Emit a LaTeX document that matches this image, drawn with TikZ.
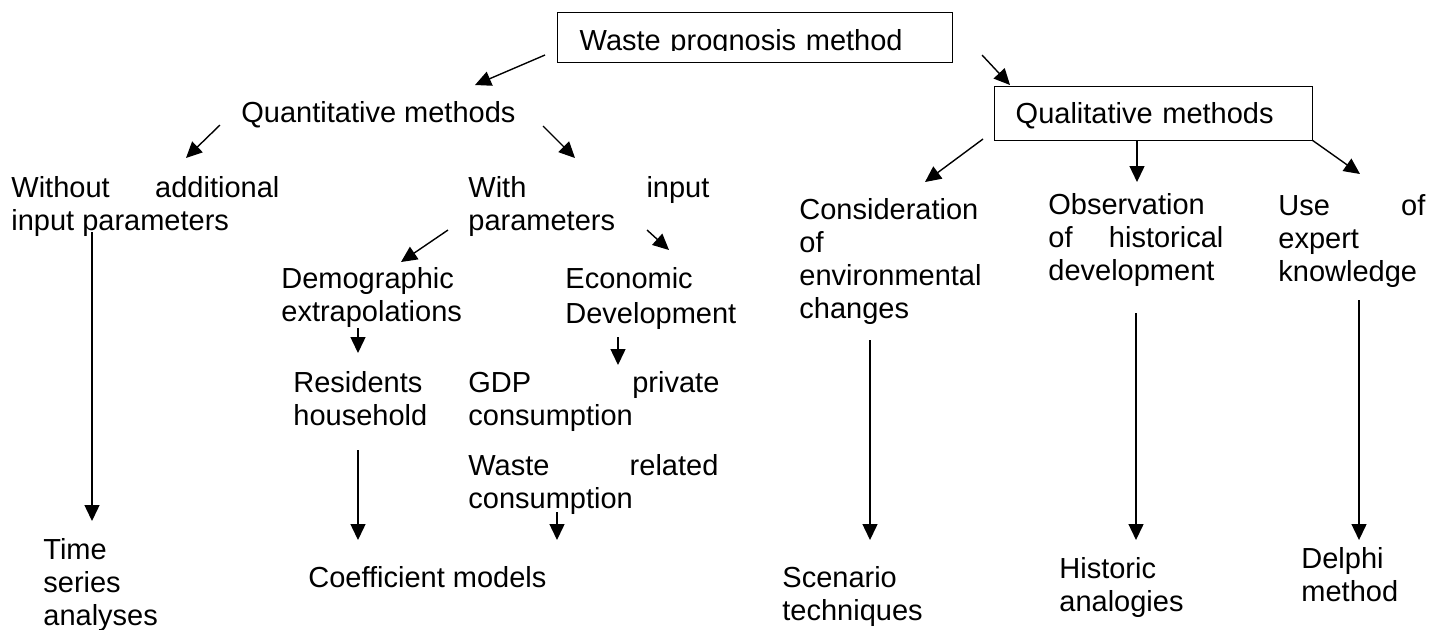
\documentclass[tikz,border=0pt]{standalone}
\usepackage{fontspec}
\setmainfont{Liberation Sans}
\usetikzlibrary{arrows.meta}
\newcommand{\stacklines}[1]{\begin{tabular}[t]{@{}l@{}}#1\end{tabular}}
\begin{document}
\begin{tikzpicture}[x=0.5pt,y=-0.5pt,
  every node/.style={font=\fontsize{14.5pt}{16.5pt}\selectfont},
  txt/.style={inner sep=0pt, anchor=base west},
  boxed/.style={draw, line width=0.7pt, inner sep=0pt, anchor=north west},
  arr/.style={line width=0.7pt, -{Triangle[length=8pt,width=7.5pt]}},
]
\useasboundingbox (0,0) rectangle (1443,629);

% top box (text clipped at its baseline, as printed)
\begin{scope}
\clip (540,0) rectangle (970,50.5) (540,57) rectangle (970,70)
      (540,0) rectangle (566,70) (935,0) rectangle (970,70);
\node[boxed, text width=197.5pt, text height=19pt, text depth=6pt] (waste) at (557,12)
  {\hspace*{11pt}Waste prognosis method};
\end{scope}

\node[txt] (quant) at (241,122) {Quantitative methods};
\node[boxed, text width=159pt, text height=18.5pt, text depth=8.5pt] (qual) at (994,86)
  {\hspace*{10.5pt}Qualitative methods};

\node[txt] (without) at (11,197) {\parbox[t]{134pt}{Without\hfill additional\\input parameters}};
\node[txt] (with) at (468,197) {\parbox[t]{120.5pt}{With\hfill input\\parameters}};
\node[txt] (demo) at (281,288) {\stacklines{Demographic\\extrapolations}};
\node[txt] (econ) at (565,288) {\stacklines{Economic\\[1pt]Development}};
\node[txt] (resid) at (293,392) {\stacklines{Residents\\household}};
\node[txt] (gdp) at (468,392) {\parbox[t]{125.5pt}{GDP\hfill private\\consumption}};
\node[txt] (wrel) at (468,475) {\parbox[t]{125pt}{Waste\hfill related\\consumption}};
\node[txt] (coef) at (308,587) {Coefficient models};
\node[txt] (time) at (43,559) {\stacklines{Time\\series\\analyses}};

\node[txt] (consid) at (799,219) {\stacklines{Consideration\\of\\environmental\\changes}};
\node[txt] (obs) at (1048,214) {\parbox[t]{87.5pt}{Observation\\of\hfill historical\\development}};
\node[txt] (use) at (1278,215) {\parbox[t]{73.5pt}{Use\hfill of\\expert\\knowledge}};
\node[txt] (scen) at (782,587) {\stacklines{Scenario\\techniques}};
\node[txt] (hist) at (1059,578) {\stacklines{Historic\\analogies}};
\node[txt] (delphi) at (1301,568) {\stacklines{Delphi\\method}};

% connector end points
\coordinate (wq1) at (545,55);   \coordinate (wq2) at (475,85);
\coordinate (wl1) at (982,55);   \coordinate (wl2) at (1010,85);
\coordinate (qo1) at (220,125);  \coordinate (qo2) at (186,158);
\coordinate (qw1) at (543,126);  \coordinate (qw2) at (575,158);
\coordinate (ot1) at (92,232);   \coordinate (ot2) at (92,521);
\coordinate (wd1) at (448,230);  \coordinate (wd2) at (401,262);
\coordinate (we1) at (647,230);  \coordinate (we2) at (669,250);
\coordinate (dr1) at (358,328);  \coordinate (dr2) at (358,353);
\coordinate (eg1) at (618,337);  \coordinate (eg2) at (618,365);
\coordinate (rc1) at (358,450);  \coordinate (rc2) at (358,540);
\coordinate (wc1) at (557,512);  \coordinate (wc2) at (557,540);
\coordinate (lc1) at (983,139);  \coordinate (lc2) at (925,182);
\coordinate (lo1) at (1137,140); \coordinate (lo2) at (1137,182);
\coordinate (lu1) at (1312,140); \coordinate (lu2) at (1360,174);
\coordinate (cs1) at (870,340);  \coordinate (cs2) at (870,540);
\coordinate (oh1) at (1136,313); \coordinate (oh2) at (1136,540);
\coordinate (ud1) at (1359,300); \coordinate (ud2) at (1359,540);

\draw[arr] (wq1) -- (wq2);
\draw[arr] (wl1) -- (wl2);
\draw[arr] (qo1) -- (qo2);
\draw[arr] (qw1) -- (qw2);
\draw[arr] (ot1) -- (ot2);
\draw[arr] (wd1) -- (wd2);
\draw[arr] (we1) -- (we2);
\draw[arr] (dr1) -- (dr2);
\draw[arr] (eg1) -- (eg2);
\draw[arr] (rc1) -- (rc2);
\draw[arr] (wc1) -- (wc2);
\draw[arr] (lc1) -- (lc2);
\draw[arr] (lo1) -- (lo2);
\draw[arr] (lu1) -- (lu2);
\draw[arr] (cs1) -- (cs2);
\draw[arr] (oh1) -- (oh2);
\draw[arr] (ud1) -- (ud2);
\end{tikzpicture}
\end{document}
